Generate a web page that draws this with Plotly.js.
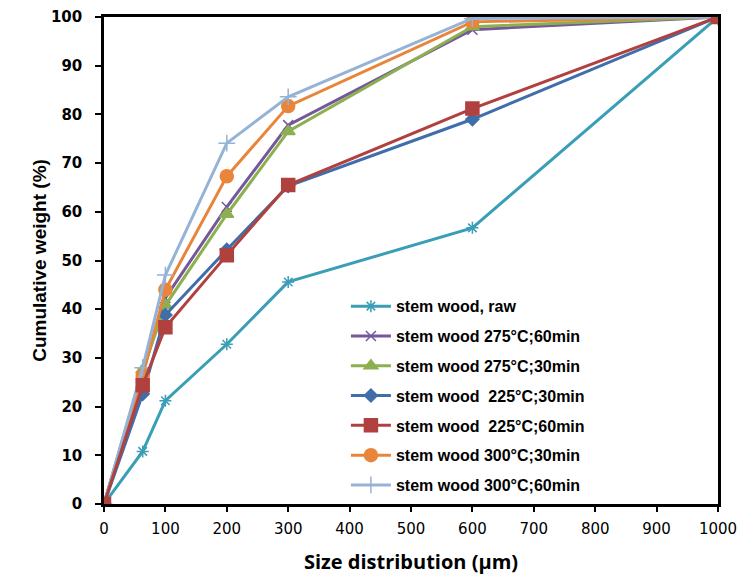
<!DOCTYPE html>
<html>
<head>
<meta charset="utf-8">
<script src="https://cdn.plot.ly/plotly-3.0.1.min.js"></script>
<style>html,body{margin:0;padding:0;background:#fff;}#chart{width:749px;height:575px;}</style>
</head>
<body>
<div id="chart"></div>
<script>
const sizes = [0, 63, 100, 200, 300, 600, 1000];
const seriesNames = [
  "stem wood, raw",
  "stem wood 275°C;60min",
  "stem wood 275°C;30min",
  "stem wood\u00A0 225°C;30min",
  "stem wood\u00A0 225°C;60min",
  "stem wood 300°C;30min",
  "stem wood 300°C;60min"
];
const raw      = [0, 10.8, 21.2, 32.8, 45.6, 56.7, 100];
const w275_60  = [0, 27.0, 42.3, 61.0, 77.8, 97.4, 100];
const w275_30  = [0, 27.5, 40.8, 59.5, 76.5, 98.0, 100];
const w225_30  = [0, 22.6, 38.8, 52.2, 65.3, 79.0, 100];
const w225_60  = [0, 24.4, 36.3, 51.1, 65.5, 81.2, 100];
const w300_30  = [0, 26.3, 44.0, 67.3, 81.7, 99.0, 100];
const w300_60  = [0, 28.0, 47.0, 74.1, 83.6, 99.7, 100];
const xTicks = [0, 100, 200, 300, 400, 500, 600, 700, 800, 900, 1000];
const yTicks = [0, 10, 20, 30, 40, 50, 60, 70, 80, 90, 100];

const styles = [
  {data: raw,     color: '#3A9EB6', symbol: 'asterisk-open', size: 10, rank: 1},
  {data: w275_60, color: '#74589B', symbol: 'x-thin-open', size: 10, rank: 2},
  {data: w275_30, color: '#8CB04F', symbol: 'triangle-up', size: 12, rank: 3},
  {data: w225_30, color: '#3F6EAB', symbol: 'diamond', size: 10, rank: 4},
  {data: w300_30, color: '#E8853A', symbol: 'circle', size: 13, rank: 6},
  {data: w300_60, color: '#95B3D7', symbol: 'cross-thin-open', size: 12, rank: 7},
  {data: w225_60, color: '#B0413E', symbol: 'square', size: 13, rank: 5}
];

const traces = styles.map(s => ({
  x: sizes,
  y: s.data,
  type: 'scatter',
  mode: 'lines+markers',
  name: seriesNames[s.rank - 1],
  legendrank: s.rank,
  legendgroup: 'g' + s.rank,
  line: {color: s.color, width: 3},
  marker: {color: s.color, symbol: s.symbol, size: s.size, line: {color: s.color, width: 1.5}}
}));

const layout = {
  width: 749, height: 575,
  margin: {l: 104, r: 31, t: 17, b: 71},
  paper_bgcolor: '#fff', plot_bgcolor: '#fff',
  showlegend: true,
  legend: {
    x: 0.394, y: 0.441, xanchor: 'left', yanchor: 'top',
    bgcolor: 'rgba(0,0,0,0)',
    traceorder: 'grouped',
    tracegroupgap: 6,
    itemwidth: 40,
    font: {family: 'Liberation Sans, Arial, sans-serif', size: 16, color: '#000', weight: 'bold'}
  },
  xaxis: {
    range: [0, 1000], tickvals: xTicks, ticktext: xTicks.map(String),
    showgrid: false, zeroline: false,
    showline: true, linecolor: '#000', linewidth: 2.5, mirror: true,
    ticks: 'outside', ticklen: 5, tickwidth: 2, tickcolor: '#000',
    ticklabelstandoff: 4,
    tickfont: {family: 'DejaVu Sans, sans-serif', size: 15, color: '#000'},
    title: {text: 'Size distribution (µm)', font: {family: 'Open Sans, sans-serif', size: 20, color: '#000', weight: 'bold'}, standoff: 19}
  },
  yaxis: {
    range: [0, 100], tickvals: yTicks, ticktext: yTicks.map(String),
    showgrid: false, zeroline: false,
    showline: true, linecolor: '#000', linewidth: 2.5, mirror: true,
    ticks: 'outside', ticklen: 6, tickwidth: 2, tickcolor: '#000',
    ticklabelstandoff: 10,
    tickfont: {family: 'DejaVu Sans, sans-serif', size: 15, color: '#000', weight: 'bold'},
    title: {text: 'Cumulative weight (%)', font: {family: 'Liberation Sans, Arial, sans-serif', size: 19, color: '#000', weight: 'bold'}, standoff: 0}
  }
};

Plotly.newPlot('chart', traces, layout, {displayModeBar: false, responsive: false});
</script>
</body>
</html>
